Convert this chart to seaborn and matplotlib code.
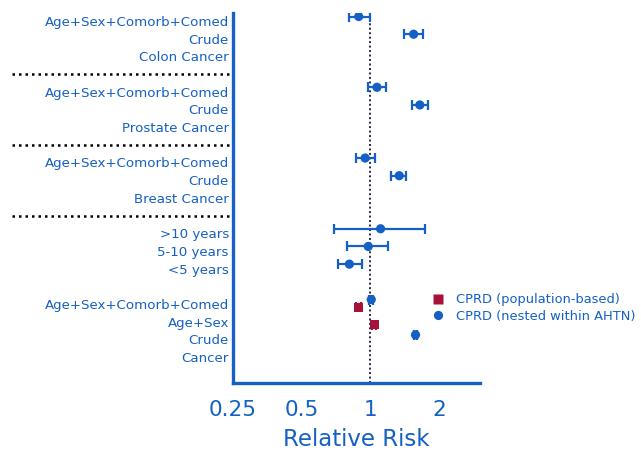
import matplotlib
matplotlib.use("Agg")
import matplotlib.pyplot as plt
import seaborn as sns
import pandas as pd
import numpy as np

# Row labels, top to bottom, with their y positions
row_labels = ["Age+Sex+Comorb+Comed", "Crude", "Colon Cancer",
              "Age+Sex+Comorb+Comed", "Crude", "Prostate Cancer",
              "Age+Sex+Comorb+Comed", "Crude", "Breast Cancer",
              ">10 years", "5-10 years", "<5 years",
              "Age+Sex+Comorb+Comed", "Age+Sex", "Crude", "Cancer"]
row_pos = [20, 19, 18, 16, 15, 14, 12, 11, 10, 8, 7, 6, 4, 3, 2, 1]
separator_rows = [17, 13, 9]

# CPRD nested within AHTN: row, relative risk, lower CI, upper CI
nested_row = [20, 19, 16, 15, 12, 11, 8, 7, 6, 4, 2]
nested_rr = [0.89, 1.55, 1.07, 1.65, 0.95, 1.34, 1.11, 0.98, 0.81, 1.01, 1.58]
nested_lo = [0.81, 1.41, 0.98, 1.53, 0.87, 1.23, 0.69, 0.79, 0.72, 0.99, 1.55]
nested_hi = [1.00, 1.70, 1.17, 1.80, 1.05, 1.44, 1.74, 1.20, 0.92, 1.03, 1.61]

# CPRD population-based
pop_row = [4, 3]
pop_rr = [0.89, 1.04]
pop_lo = [0.87, 1.02]
pop_hi = [0.91, 1.06]

xticks = [0.25, 0.5, 1, 2]
xtick_labels = ["0.25", "0.5", "1", "2"]

BLUE = "#1560c4"
RED = "#a8113a"

sns.set_style("white")
plt.rcParams["font.family"] = ["DejaVu Sans"]

fig = plt.figure(figsize=(6.41, 4.5), dpi=100)
ax = fig.add_axes([233 / 641, 1 - 383 / 450, (480 - 233) / 641, (383 - 13) / 450])

nested = pd.DataFrame({"row": np.array(nested_row) + 0.25, "rr": nested_rr,
                       "lo": nested_lo, "hi": nested_hi,
                       "source": "CPRD (nested within AHTN)"})
pop = pd.DataFrame({"row": np.array(pop_row) - 0.18, "rr": pop_rr,
                    "lo": pop_lo, "hi": pop_hi,
                    "source": "CPRD (population-based)"})
df = pd.concat([pop, nested], ignore_index=True)

# reference line at RR = 1
ax.axvline(1, color="#25284a", linestyle=(0, (1, 1.3)), linewidth=1.4, zorder=1)

for d, c in [(pop, RED), (nested, BLUE)]:
    ax.errorbar(d["rr"], d["row"],
                xerr=[d["rr"] - d["lo"], d["hi"] - d["rr"]],
                fmt="none", ecolor=c, elinewidth=1.6, capsize=3.3,
                capthick=1.6, zorder=2)

sns.scatterplot(data=df, x="rr", y="row", hue="source", style="source",
                palette={"CPRD (population-based)": RED,
                         "CPRD (nested within AHTN)": BLUE},
                markers={"CPRD (population-based)": "s",
                         "CPRD (nested within AHTN)": "o"},
                s=44, edgecolor="none", ax=ax, zorder=3)

ax.set_xscale("log", base=2)
ax.set_xlim(0.25, 3.03)
ax.set_ylim(-0.47, 20.45)
ax.set_xticks(xticks)
ax.set_xticklabels(xtick_labels)
ax.minorticks_off()
ax.set_yticks(row_pos)
ax.set_yticklabels(row_labels)

ax.tick_params(axis="x", colors=BLUE, labelsize=15.5, length=6, width=2.4,
               direction="out", pad=6)
ax.tick_params(axis="y", colors=BLUE, labelsize=9.6, length=0, pad=3)
for lbl in ax.get_xticklabels() + ax.get_yticklabels():
    lbl.set_color(BLUE)

for side in ["top", "right"]:
    ax.spines[side].set_visible(False)
for side in ["left", "bottom"]:
    ax.spines[side].set_color(BLUE)
    ax.spines[side].set_linewidth(2.4)

ax.set_xlabel("Relative Risk", color=BLUE, fontsize=16.5, labelpad=6)
ax.set_ylabel("")

# dotted separators between subgroup blocks, in the label margin
for r in separator_rows:
    ax.plot([-0.895, -0.012], [r, r], transform=ax.get_yaxis_transform(),
            color="black", linestyle=(0, (1, 1.6)), linewidth=1.8,
            clip_on=False)

handles, labels = ax.get_legend_handles_labels()
ax.legend(handles=handles, labels=labels, loc="center left",
          bbox_to_anchor=(425 / 641, 1 - 308 / 450),
          bbox_transform=fig.transFigure, frameon=False,
          fontsize=9.4, labelcolor=BLUE, handletextpad=0.75,
          labelspacing=0.25, handlelength=1.2, borderaxespad=0)

fig.savefig("out.png", dpi=100)
